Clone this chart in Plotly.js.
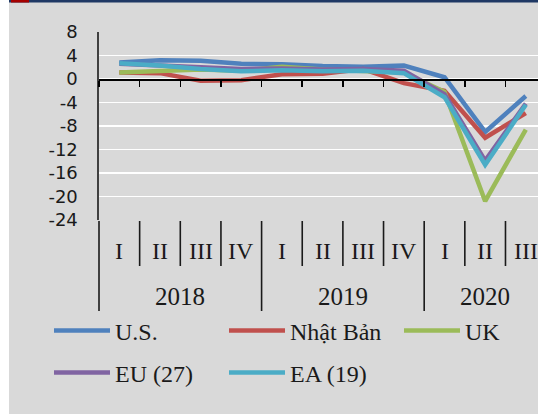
<!DOCTYPE html>
<html>
<head>
<meta charset="utf-8">
<script src="https://cdn.plot.ly/plotly-3.0.1.min.js"></script>
<style>
html,body{margin:0;padding:0;background:#fff;}
#chart{width:538px;height:414px;}
</style>
</head>
<body>
<div id="chart"></div>
<script>
// ---- data ----
const periodYears = ['2018','2018','2018','2018','2019','2019','2019','2019','2020','2020','2020'];
const periodQuarters = ['I','II','III','IV','I','II','III','IV','I','II','III'];
const yearLabels = ['2018','2019','2020'];
const seriesNames = ['U.S.','Nhật Bản','UK','EU (27)','EA (19)'];
const usValues    = [2.8, 3.2, 3.1, 2.6, 2.5, 2.2, 2.1, 2.3, 0.3, -9.0, -2.9];
const japanValues = [1.1, 1.0, -0.3, -0.2, 0.8, 0.9, 1.7, -0.7, -2.0, -10.0, -5.8];
const ukValues    = [1.1, 1.3, 1.6, 1.4, 2.1, 1.6, 1.4, 1.1, -2.2, -20.8, -8.6];
const euValues    = [2.6, 2.3, 2.0, 1.7, 1.8, 1.6, 1.7, 1.4, -2.6, -13.9, -4.2];
const eaValues    = [2.7, 2.3, 1.7, 1.3, 1.5, 1.3, 1.4, 1.0, -3.1, -14.6, -4.4];
const yTickValues = [8, 4, 0, -4, -8, -12, -16, -20, -24];

// ---- styling / geometry ----
const W = 538, H = 414;
const PL = 99, PT = 32, PW = 439, PH = 188;
const xRange = [-0.5, 10.3];
const colors = ['#4F81BD', '#C0504D', '#9BBB59', '#8064A2', '#4BACC6'];
const serif = 'Liberation Serif, DejaVu Serif, serif';
const textColor = '#1a1a1a';

const xCats = periodYears.map((y, i) => y + ' ' + periodQuarters[i]);
const allValues = [usValues, japanValues, ukValues, euValues, eaValues];
// legend slots: row 1 -> legend (U.S., Nhật Bản) + legend3 (UK); row 2 -> legend2
const legendIds = ['legend', 'legend', 'legend3', 'legend2', 'legend2'];

const traces = allValues.map((vals, k) => ({
  type: 'scatter', mode: 'lines',
  x: xCats, y: vals, name: seriesNames[k],
  line: {color: colors[k], width: 4.5},
  legend: legendIds[k],
  hoverinfo: 'skip'
}));

const xpPix = px => (px - PL) / PW;
const ypPix = py => (PT + PH - py) / PH;
const xpIdx = b => (b - xRange[0]) / (xRange[1] - xRange[0]);

const shapes = [];
// left white strip, top bar
shapes.push({type:'rect', xref:'paper', yref:'paper', x0:xpPix(0), x1:xpPix(9), y0:ypPix(H), y1:ypPix(0), fillcolor:'#ffffff', line:{width:0}, layer:'above'});
shapes.push({type:'rect', xref:'paper', yref:'paper', x0:xpPix(9), x1:xpPix(W), y0:ypPix(2.5), y1:ypPix(0), fillcolor:'#1F3864', line:{width:0}, layer:'above'});
shapes.push({type:'rect', xref:'paper', yref:'paper', x0:xpPix(11), x1:xpPix(29), y0:ypPix(2.5), y1:ypPix(0), fillcolor:'#A50000', line:{width:0}, layer:'above'});

// category separators under the plot
for (let k = 0; k <= periodQuarters.length; k++) {
  const b = k - 0.5;
  if (b > xRange[1]) continue;
  const isYearStart = k === 0 || (k < periodYears.length && periodYears[k] !== periodYears[k - 1]);
  shapes.push({type:'line', xref:'paper', yref:'paper',
    x0:xpIdx(b), x1:xpIdx(b), y0:ypPix(221), y1:ypPix(isYearStart ? 311 : 266),
    line:{color:textColor, width:1.6}});
}

const annotations = [];
periodQuarters.forEach((q, i) => {
  annotations.push({xref:'x', yref:'paper', x:i, y:ypPix(251), text:q, showarrow:false,
    xanchor:'center', yanchor:'middle', font:{family:serif, size:24, color:textColor}});
});
yearLabels.forEach(yr => {
  const idx = periodYears.map((y, i) => y === yr ? i : -1).filter(i => i >= 0);
  const c = (idx[0] + idx[idx.length - 1]) / 2;
  annotations.push({xref:'x', yref:'paper', x:c, y:ypPix(296), text:yr, showarrow:false,
    xanchor:'center', yanchor:'middle', font:{family:serif, size:25, color:textColor}});
});

const colStep = 175, legendLeft = 49;
const legendCommon = {
  orientation:'h', xref:'container', yref:'container',
  x: legendLeft / W, xanchor:'left', yanchor:'middle',
  entrywidth:104, entrywidthmode:'pixels', itemwidth:56,
  font:{family:serif, size:24, color:textColor},
  bgcolor:'rgba(0,0,0,0)', borderwidth:0, traceorder:'normal',
  itemclick:false, itemdoubleclick:false
};

const layout = {
  width:W, height:H,
  margin:{l:PL, r:W - PL - PW, t:PT, b:H - PT - PH, pad:0},
  paper_bgcolor:'#d9d9d9', plot_bgcolor:'#d9d9d9',
  showlegend:true,
  xaxis:{type:'category', categoryorder:'array', categoryarray:xCats, range:xRange,
    anchor:'free', position:ypPix(79) , side:'bottom',
    showline:true, linecolor:'#000000', linewidth:1.6,
    ticks:'outside', tickson:'boundaries', ticklen:6, tickwidth:1.6, tickcolor:'#000000',
    showticklabels:false, showgrid:false, zeroline:false, fixedrange:true},
  yaxis:{range:[-24, 8], tickvals:yTickValues, ticktext:yTickValues.map(String),
    showgrid:true, gridcolor:'#ffffff', gridwidth:1.6,
    showline:true, linecolor:'#404040', linewidth:1.6, zeroline:false,
    ticks:'', ticklabelstandoff:16,
    tickfont:{family:'DejaVu Sans, sans-serif', size:18, color:textColor}, fixedrange:true},
  legend:Object.assign({}, legendCommon, {y:1 - 331 / H}),
  legend3:Object.assign({}, legendCommon, {x:(legendLeft + 2 * colStep) / W, y:1 - 331 / H}),
  legend2:Object.assign({}, legendCommon, {y:1 - 373 / H}),
  shapes:shapes,
  annotations:annotations
};

Plotly.newPlot('chart', traces, layout, {displayModeBar:false, staticPlot:true});
</script>
</body>
</html>
